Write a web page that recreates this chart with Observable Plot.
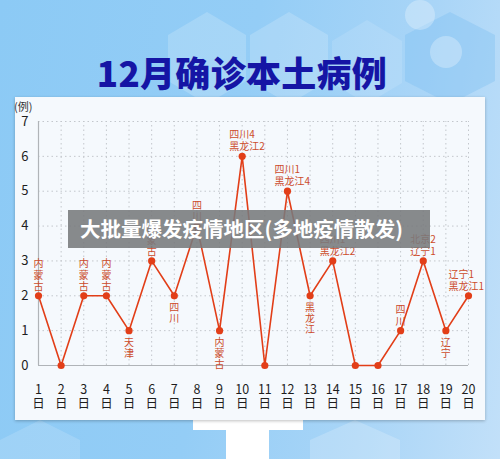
<!DOCTYPE html>
<html>
<head>
<meta charset="utf-8">
<script src="https://cdn.jsdelivr.net/npm/d3@7"></script>
<script src="https://cdn.jsdelivr.net/npm/@observablehq/plot@0.6"></script>
<style>
  body { margin: 0; }
  #wrap { position: relative; width: 500px; height: 459px; overflow: hidden;
    background: linear-gradient(100deg, #8ccaf5 0%, #94cdf6 45%, #a9d5f7 75%, #c2e0f9 100%);
    font-family: "Noto Sans CJK SC", "Noto Sans", sans-serif; }
  .hex { position: absolute; clip-path: polygon(50% 0, 100% 25%, 100% 75%, 50% 100%, 0 75%, 0 25%);
    background: rgba(255,255,255,0.18); }
  .circ { position: absolute; border-radius: 50%; background: rgba(255,255,255,0.28); }
  #panel { position: absolute; left: 15px; top: 97px; width: 470px; height: 323px;
    background: #f5f9fd; box-shadow: 0 1px 3px rgba(0,0,0,0.25); }
  #title { position: absolute; left: 0; width: 484px; top: 46px; text-align: center;
    font-size: 35px; font-weight: 900; color: #1515a5; letter-spacing: 0.3px; }
  #unit { position: absolute; left: 14px; top: 98px; font-size: 11px; color: #333; }
  #chart { position: absolute; left: 0; top: 0; }
  #banner { position: absolute; left: 68px; top: 210px; width: 362px; height: 38px;
    background: rgba(120,122,124,0.88); color: #fff; font-weight: 700; font-size: 20.5px;
    line-height: 37px; padding-left: 12px; box-sizing: border-box; white-space: nowrap; }
  .tw { position: absolute; background: #ffffff; }
</style>
</head>
<body>
<div id="wrap">
  <div class="hex" style="left:168px;top:12px;width:78px;height:92px;"></div>
  <div class="hex" style="left:250px;top:12px;width:78px;height:92px;"></div>
  <div class="hex" style="left:332px;top:20px;width:70px;height:84px;background:rgba(255,255,255,0.12)"></div>
  <div class="hex" style="left:405px;top:12px;width:90px;height:92px;background:rgba(120,190,240,0.35)"></div>
  <div class="circ" style="left:405px;top:0px;width:30px;height:30px;"></div>
  <div class="circ" style="left:430px;top:36px;width:32px;height:32px;"></div>
  <div class="hex" style="left:0px;top:420px;width:80px;height:80px;background:rgba(255,255,255,0.15)"></div>
  <div class="hex" style="left:310px;top:420px;width:90px;height:80px;background:rgba(255,255,255,0.2)"></div>
  <div class="tw" style="left:193px;top:420px;width:110px;height:10px;"></div>
  <div class="tw" style="left:226px;top:420px;width:43px;height:39px;"></div>
  <div id="title">12月确诊本土病例</div>
  <div id="panel"></div>
  <div id="unit">(例)</div>
  <div id="chart"></div>
  <div id="banner">大批量爆发疫情地区(多地疫情散发)</div>
</div>
<script>
const days = [1, 2, 3, 4, 5, 6, 7, 8, 9, 10, 11, 12, 13, 14, 15, 16, 17, 18, 19, 20];
const cases = [2, 0, 2, 2, 1, 3, 2, 4, 1, 6, 0, 5, 2, 3, 0, 0, 1, 3, 1, 2];
const regions = [
  "内蒙古", "", "内蒙古", "内蒙古", "天津", "内蒙古", "四川", "四川", "内蒙古",
  "四川4\n黑龙江2", "", "四川1\n黑龙江4", "黑龙江", "四川1\n黑龙江2", "", "",
  "四川", "北京2\n辽宁1", "辽宁", "辽宁1\n黑龙江1"
];
const yTicks = [0, 1, 2, 3, 4, 5, 6, 7];
const dayLabel = "日";

const n = days.length;
const data = days.map((d, i) => ({
  day: d,
  value: cases[i],
  label: regions[i],
  multi: regions[i].includes("\n"),
  below: i > 0 && i < n - 1 && cases[i] < cases[i - 1] && cases[i] < cases[i + 1],
  vtext: regions[i].split("").join("\n")
}));
const lastDay = days[n - 1];

const lineColor = "#e23e18";
const labelColor = "#cc4b2a";
const gridColor = "#c3c7cc";

const chart = Plot.plot({
  width: 500,
  height: 459,
  marginLeft: 38,
  marginRight: 32,
  marginTop: 121,
  marginBottom: 94,
  x: { type: "linear", domain: [days[0], lastDay] },
  y: { domain: [0, 7] },
  style: { background: "transparent", fontFamily: "Noto Sans CJK SC", color: "#1e1e1e", overflow: "visible" },
  marks: [
    Plot.ruleY(yTicks.filter(v => v > 0), { x1: days[0], x2: lastDay, stroke: gridColor, strokeDasharray: "1.5,3", strokeWidth: 1 }),
    Plot.ruleX(days.slice(1), { y1: 0, y2: 7, stroke: gridColor, strokeDasharray: "1.5,3", strokeWidth: 1 }),
    Plot.ruleX([days[0]], { y1: 0, y2: 7, stroke: "#b0b4b8", strokeWidth: 1.2 }),
    Plot.ruleY([0], { x1: days[0], x2: lastDay, stroke: "#b0b4b8", strokeWidth: 1.2 }),
    Plot.axisY(yTicks, { label: null, tickSize: 0, tickPadding: 10, fontSize: 13, fill: "#1e1e1e" }),
    Plot.axisX(days, { label: null, tickSize: 0, tickPadding: 18, tickFormat: d => d + "\n" + dayLabel, fontSize: 12.5, lineHeight: 1.15, fill: "#1e1e1e" }),
    Plot.line(data, { x: "day", y: "value", stroke: lineColor, strokeWidth: 1.6 }),
    Plot.dot(data, { x: "day", y: "value", r: 3.6, fill: lineColor, stroke: "none" }),
    Plot.text(data.filter(d => d.label && !d.multi && !d.below), {
      x: "day", y: "value", text: "vtext", lineAnchor: "bottom", dy: -6,
      fontSize: 10, lineHeight: 1.12, fill: labelColor
    }),
    Plot.text(data.filter(d => d.label && !d.multi && d.below), {
      x: "day", y: "value", text: "vtext", lineAnchor: "top", dy: 7,
      fontSize: 10, lineHeight: 1.12, fill: labelColor
    }),
    Plot.text(data.filter(d => d.multi && d.day !== lastDay), {
      x: "day", y: "value", text: "label", lineAnchor: "bottom", textAnchor: "start", dx: -13, dy: -6,
      fontSize: 10, lineHeight: 1.2, fill: labelColor
    }),
    Plot.text(data.filter(d => d.multi && d.day === lastDay), {
      x: "day", y: "value", text: "label", lineAnchor: "bottom", textAnchor: "start", dx: -20, dy: -6,
      fontSize: 10, lineHeight: 1.2, fill: labelColor
    })
  ]
});
document.getElementById("chart").appendChild(chart);
</script>
</body>
</html>
